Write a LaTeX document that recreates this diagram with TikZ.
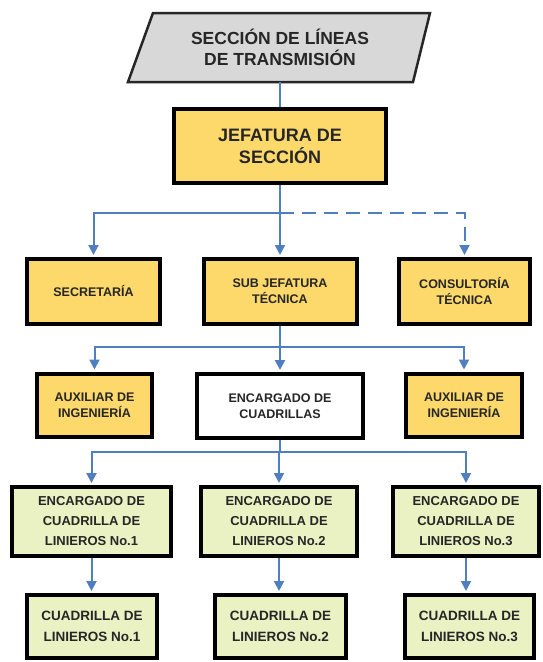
\documentclass[tikz,border=0pt]{standalone}
\usepackage{fontspec}
\setmainfont{Liberation Sans}
\usetikzlibrary{arrows.meta}
\definecolor{boxyellow}{HTML}{FDD96B}
\definecolor{boxgreen}{HTML}{EAF2C4}
\definecolor{titlegray}{HTML}{D8D8D8}
\definecolor{linkblue}{HTML}{4F7FC0}
\definecolor{txt}{HTML}{262626}
\tikzset{
  box/.style={draw=black, line width=4pt, align=center, text=txt, font=\bfseries, inner sep=0pt},
  yel/.style={box, fill=boxyellow},
  grn/.style={box, fill=boxgreen},
  wht/.style={box, fill=white},
  small/.style={font=\bfseries\fontsize{12.5}{16}\selectfont},
  mid/.style={font=\bfseries\fontsize{13}{20}\selectfont},
  midb/.style={font=\bfseries\fontsize{13.5}{21}\selectfont},
  link/.style={draw=linkblue, line width=2pt},
  arr/.style={link, -{Triangle[width=10pt,length=10pt]}, shorten >=2pt},
  dashlink/.style={arr, dash pattern=on 14pt off 8pt}
}
\begin{document}
\begin{tikzpicture}[x=1pt,y=-1pt]
\useasboundingbox (0,0) rectangle (542,662);
% title parallelogram
\fill[titlegray] (153,13) -- (430,13) -- (413,82) -- (128,82) -- cycle;
\draw[line width=2.5pt, line join=miter, draw=black!85] (153,13) -- (430,13) -- (413,82) -- (128,82) -- cycle;
\node[inner sep=0pt, minimum height=69pt, minimum width=200pt, align=center, text=txt,
      font=\bfseries\fontsize{17.5}{20.5}\selectfont] (title) at (280,47.5) {SECCIÓN DE LÍNEAS\\DE TRANSMISIÓN};
% level 1
\node[yel, minimum width=212pt, minimum height=74pt, font=\bfseries\fontsize{18}{22}\selectfont] (jefe) at (280,146) {JEFATURA DE\\SECCIÓN};
% level 2
\node[yel, small, minimum width=133pt, minimum height=65pt] (sec) at (93.5,291.5) {SECRETARÍA};
\node[yel, small, minimum width=153pt, minimum height=65pt] (sub) at (280,291.5) {SUB JEFATURA\\TÉCNICA};
\node[yel, small, minimum width=131pt, minimum height=65pt] (cons) at (464.5,291.5) {CONSULTORÍA\\TÉCNICA};
% level 3
\node[yel, small, minimum width=115pt, minimum height=63pt] (auxl) at (94.5,405) {AUXILIAR DE\\INGENIERÍA};
\node[wht, small, minimum width=166pt, minimum height=64pt] (enc) at (280,406) {ENCARGADO DE\\CUADRILLAS};
\node[yel, small, minimum width=116pt, minimum height=63pt] (auxr) at (464,405) {AUXILIAR DE\\INGENIERÍA};
% level 4
\node[grn, mid, minimum width=159pt, minimum height=69pt] (ea) at (91.5,521.5) {ENCARGADO DE\\CUADRILLA DE\\LINIEROS No.1};
\node[grn, mid, minimum width=156pt, minimum height=69pt] (eb) at (279,521.5) {ENCARGADO DE\\CUADRILLA DE\\LINIEROS No.2};
\node[grn, mid, minimum width=146pt, minimum height=69pt] (ec) at (466,521.5) {ENCARGADO DE\\CUADRILLA DE\\LINIEROS No.3};
% level 5
\node[grn, midb, minimum width=130pt, minimum height=63pt] (ca) at (92,626.5) {CUADRILLA DE\\LINIEROS No.1};
\node[grn, midb, minimum width=131pt, minimum height=63pt] (cb) at (280.5,626.5) {CUADRILLA DE\\LINIEROS No.2};
\node[grn, midb, minimum width=129pt, minimum height=63pt] (cc) at (469.5,626.5) {CUADRILLA DE\\LINIEROS No.3};
% bus coordinates
\coordinate (b1) at (280,213);
\coordinate (b2) at (280,347);
\coordinate (b3) at (280,452);
% connectors
\draw[link] (title.south) -- (jefe.north);
\draw[link] (jefe.south) -- (b1);
\draw[arr] (b1) -| (sec.north);
\draw[arr] (b1) -- (sub.north);
\draw[dashlink] (b1) -| (cons.north);
\draw[link] (sub.south) -- (b2);
\draw[arr] (b2) -| (auxl.north);
\draw[arr] (b2) -- (enc.north);
\draw[arr] (b2) -| (auxr.north);
\draw[link] (enc.south) -- (b3);
\draw[arr] (b3) -| (ea.north);
\draw[arr] (b3) -| (eb.north);
\draw[arr] (b3) -| (ec.north);
\draw[arr] (ea.south) -- (ea.south |- ca.north);
\draw[arr] (eb.south) -- (eb.south |- cb.north);
\draw[arr] (ec.south) -- (ec.south |- cc.north);
\end{tikzpicture}
\end{document}
